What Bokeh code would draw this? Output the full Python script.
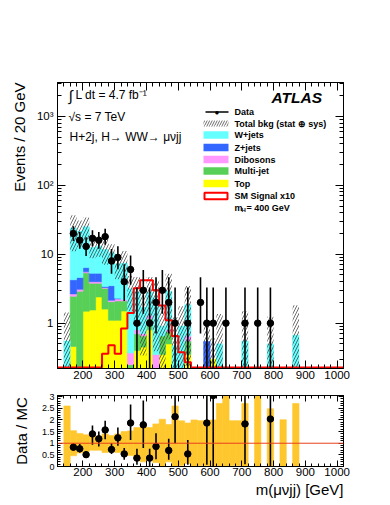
import numpy as np
from bokeh.plotting import figure
from bokeh.layouts import column
from bokeh.models import (Range1d, FixedTicker, LinearAxis, LogAxis, Title,
                          Label, BoxAnnotation, ColumnDataSource, Span, CustomJSTickFormatter)
from bokeh.embed import file_html
from bokeh.resources import INLINE

# ---------------- data ----------------
bin_centers = [150, 170, 190, 210, 230, 250, 270, 290, 310, 330, 350, 370, 390, 410, 430, 450,
               470, 490, 510, 530, 550, 570, 590, 610, 630, 650, 670, 690, 710, 730, 750, 770,
               790, 810, 830, 850, 870]
w_jets = [0.55, 19.7, 17.1, 18.6, 7.2, 7.8, 8.3, 7.0, 4.9, 5.2, 2.8, 2.0, 1.0, 1.5, 1.95, 0.25,
          2.1, 0.25, 0.8, 1.2, 0.1, 0.1, 0, 0, 0.5, 0.05, 0.1, 0.1, 0.55, 0, 0.05, 0,
          0.5, 0, 0.1, 0, 0.67]
z_jets = [0, 1.6, 1.5, 0.85, 1.3, 1.3, 0.1, 1.35, 0.05, 0, 0, 0, 0, 0, 0, 0,
          0, 0, 0, 0, 0, 0, 0.54, 0, 0, 0, 0, 0, 0, 0, 0, 0,
          0, 0, 0, 0, 0]
dibosons = [0, 0.2, 0.2, 0.19, 0.2, 0.2, 0.1, 0.1, 0.15, 0.1, 0.12, 0.1, 0.05, 0.15, 0.35, 0,
            0.05, 0, 0, 0.1, 0, 0, 0, 0, 0, 0, 0, 0, 0, 0, 0, 0,
            0, 0, 0, 0, 0]
multijet = [0, 2.0, 2.9, 3.87, 2.25, 1.4, 1.6, 0.95, 1.0, 0.6, 0.15, 0.3, 0.2, 0.35, 0, 0.3,
            0.25, 0, 0.1, 0.2, 0, 0, 0, 0, 0, 0, 0, 0, 0, 0, 0, 0,
            0, 0, 0, 0, 0]
top = [0, 0.46, 0.0, 1.49, 1.55, 2.4, 1.6, 1.1, 1.1, 1.5, 0.1, 0.4, 0.45, 0.8, 0, 0.35,
       0.5, 0.22, 0, 0.35, 0, 0, 0, 0.3, 0, 0, 0, 0, 0, 0, 0, 0,
       0, 0, 0, 0, 0]
mc_rel_unc = [1.6, 0.54, 0.42, 0.36, 0.30, 0.30, 0.40, 0.33, 0.40, 0.50, 0.53, 0.67, 0.80, 0.67,
              0.83, 1.03, 0.80, 1.60, 0.96, 0.87, 1.00, 0.97, 0.97, 1.00, 1.71, 2.2, 0.97, 0.97,
              1.71, 0, 2.2, 0, 1.48, 0, 1.01, 0, 1.71]

signal_centers = [270, 290, 310, 330, 350, 370, 390, 410, 430, 450, 470, 490, 510, 530]
signal_x10 = [0.36, 0.48, 0.36, 0.84, 1.4, 3.2, 4.2, 4.2, 3.0, 1.8, 1.1, 0.65, 0.38, 0.27]

data_x = [170, 190, 210, 230, 250, 270, 290, 310, 330, 350, 370, 390, 410, 430, 450, 470, 490,
          530, 570, 590, 610, 650, 710, 750, 790]
data_n = [20, 16, 13, 17, 16, 18, 8, 9, 4, 6, 1, 3, 1, 2, 3, 2, 1, 1, 2, 1, 1, 1, 1, 1, 1]
data_err_lo = [4.44, 3.97, 3.57, 4.10, 3.97, 4.22, 2.77, 2.94, 1.91, 2.38, 0.83, 1.63, 0.83, 1.29,
               1.63, 1.29, 0.83, 0.83, 1.29, 0.83, 0.83, 0.83, 0.83, 0.83, 0.83]
data_err_hi = [5.56, 5.10, 4.71, 5.22, 5.10, 5.34, 3.95, 4.11, 3.16, 3.58, 2.30, 2.92, 2.30, 2.64,
               2.92, 2.64, 2.30, 2.30, 2.64, 2.30, 2.30, 2.30, 2.30, 2.30, 2.30]

ratio_x = [170, 190, 210, 230, 250, 270, 290, 310, 330, 350, 370, 390, 410, 430, 470, 490, 530,
           590, 610, 710, 790]
ratio_y = [0.83, 0.76, 0.51, 1.40, 1.19, 1.57, 0.73, 1.23, 0.54, 1.87, 0.36, 1.79, 0.36, 0.86,
           0.69, 2.14, 0.54, 1.87, 3.05, 1.83, 2.04]
ratio_lo = [0.69, 0.60, 0.43, 0.93, 0.86, 1.17, 0.54, 0.89, 0.29, 1.14, 0.07, 0.79, 0.0, 0.31,
            0.29, 1.0, 0.07, 0.07, 0.0, 0.1, 0.0]
ratio_hi = [1.0, 0.97, 0.64, 1.76, 1.5, 1.97, 1.0, 1.67, 0.79, 2.66, 0.76, 2.83, 0.76, 1.43,
            1.19, 3.2, 1.14, 3.2, 3.2, 3.2, 3.2]

x_ticks = [200, 300, 400, 500, 600, 700, 800, 900, 1000]
y_ticks_main = [1, 10, 100, 1000]
y_tick_labels_main = ["1", "10", "10\u00b2", "10\u00b3"]
y_ticks_ratio = [0, 0.5, 1, 1.5, 2, 2.5, 3]

# ---------------- style ----------------
FONT = "Liberation Sans"
YMIN, YMAX = 0.22, 3100
XMIN, XMAX = 120, 1020
HALF = 10
COLORS = {"top": "#FFFF00", "mj": "#58D058", "dib": "#FF99FF", "z": "#3366FF", "w": "#66FFFF"}

FRAME_L, MAIN_FRAME_B, RATIO_FRAME_B = 57, 368, 466
BLANK = CustomJSTickFormatter(code="return '';")


def style_axis(ax, major_in, minor_in, font_size, standoff):
    ax.major_tick_in = major_in
    ax.major_tick_out = 0
    ax.minor_tick_in = minor_in
    ax.minor_tick_out = 0
    ax.axis_line_color = "black"
    ax.major_tick_line_color = "black"
    ax.minor_tick_line_color = "black"
    ax.major_label_text_font = FONT
    ax.major_label_text_font_size = font_size
    ax.major_label_text_color = "black"
    ax.major_label_standoff = standoff


x_minor = [v for v in range(120, 1021, 20) if v % 100 != 0]

# ---------------- main panel ----------------
p = figure(width=390, height=386, x_range=Range1d(XMIN, XMAX), y_range=Range1d(YMIN, YMAX),
           y_axis_type="log", output_backend="svg", toolbar_location=None,
           min_border_left=57, min_border_right=47, min_border_top=82, min_border_bottom=18)
p.grid.visible = False
p.outline_line_color = "black"
p.background_fill_color = "white"
p.border_fill_color = "white"

left = np.array(bin_centers) - HALF
right = np.array(bin_centers) + HALF
cum = np.zeros(len(bin_centers))
for key, vals in [("top", top), ("mj", multijet), ("dib", dibosons), ("z", z_jets), ("w", w_jets)]:
    v = np.array(vals, dtype=float)
    bottom = cum.copy()
    upper = cum + v
    mk = v > 0
    src = ColumnDataSource(dict(left=left[mk], right=right[mk],
                                bottom=np.maximum(bottom[mk], 1e-3), top=upper[mk]))
    p.quad(left="left", right="right", bottom="bottom", top="top", source=src,
           fill_color=COLORS[key], line_color=COLORS[key], line_width=0.6)
    cum = upper
total = cum

unc = np.array(mc_rel_unc)
m = total > 0
p.quad(left=left[m], right=right[m], bottom=np.maximum(total[m] * (1 - unc[m]), 1e-3),
       top=total[m] * (1 + unc[m]), fill_alpha=0, line_color=None,
       hatch_pattern="/", hatch_color="#333333", hatch_alpha=0.8, hatch_scale=6, hatch_weight=0.9)

# signal x10: empty bins drawn along the bottom edge, as in the reference
edges = list(range(XMIN, XMAX + 1, 20))
sig_map = dict(zip(signal_centers, signal_x10))
sig_vals = [sig_map.get(e + HALF, YMIN * 1.03) for e in edges[:-1]]
p.step(x=edges, y=sig_vals + [sig_vals[-1]], mode="after", line_color="#FF0000", line_width=2)

dx = np.array(data_x, dtype=float)
dn = np.array(data_n, dtype=float)
p.segment(x0=dx, y0=np.maximum(dn - np.array(data_err_lo), 1e-3), x1=dx,
          y1=dn + np.array(data_err_hi), line_color="black", line_width=1.6)
p.segment(x0=dx - HALF, y0=dn, x1=dx + HALF, y1=dn, line_color="black", line_width=1.6)
p.scatter(x=dx, y=dn, size=6.5, marker="circle", fill_color="black", line_color="black")

xt = FixedTicker(ticks=x_ticks, minor_ticks=x_minor)
ymin_ticks = [k * 10 ** e for e in range(-1, 4) for k in range(2, 10) if YMIN <= k * 10 ** e <= YMAX]
yt = FixedTicker(ticks=y_ticks_main, minor_ticks=ymin_ticks)
lbl_map = "{" + ",".join(f"'{t}':'{s}'" for t, s in zip(y_ticks_main, y_tick_labels_main)) + "}"
yfmt = CustomJSTickFormatter(code=f"const m = {lbl_map}; const k = String(Math.round(tick)); return (k in m) ? m[k] : '';")

p.xaxis.ticker = xt
p.yaxis.ticker = yt
p.yaxis.formatter = yfmt
style_axis(p.xaxis[0], 8, 4, "11.5px", 2)
style_axis(p.yaxis[0], 8, 4, "11.5px", 4)

ax_top = LinearAxis(ticker=xt, formatter=BLANK)
style_axis(ax_top, 8, 4, "2px", 0)
p.add_layout(ax_top, "above")
ax_right = LogAxis(ticker=yt, formatter=BLANK)
style_axis(ax_right, 8, 4, "2px", 0)
p.add_layout(ax_right, "right")

p.add_layout(Title(text="Events / 20 GeV", align="right", text_font=FONT, text_font_size="15px",
                   text_font_style="normal", text_color="black", standoff=12), "left")


def lab(fig, X, Y, text, size="12px", frame_b=MAIN_FRAME_B, align="left", baseline="middle",
        style="normal", angle=0.0, color="black"):
    fig.add_layout(Label(x=X - FRAME_L, y=frame_b - Y, x_units="screen", y_units="screen",
                         text=text, text_font=FONT, text_font_size=size, text_align=align,
                         text_baseline=baseline, text_font_style=style, angle=angle,
                         text_color=color))


def box(fig, X0, X1, Y0, Y1, **kw):
    fig.add_layout(BoxAnnotation(left=X0 - FRAME_L, right=X1 - FRAME_L,
                                 top=MAIN_FRAME_B - Y0, bottom=MAIN_FRAME_B - Y1,
                                 left_units="screen", right_units="screen",
                                 top_units="screen", bottom_units="screen", **kw))


lab(p, 68, 94.5, "\u222b", size="15px")
lab(p, 75, 94.5, "L dt = 4.7 fb\u207b\u00b9")
lab(p, 68, 116, "\u221as = 7 TeV")
lab(p, 69, 136.5, "H+2j, H\u2192 WW\u2192 \u03bc\u03bdjj")
lab(p, 271, 96.5, "ATLAS", size="15.5px", style="bold italic")

rows = {"data": 111.5, "bkg": 123, "w": 134.5, "z": 147, "dib": 159, "mj": 170.5, "top": 183,
        "sig": 195.5, "mh": 207}
TX = 234
box(p, 205, 228, rows["data"] - 0.8, rows["data"] + 0.8, fill_color="black", fill_alpha=1,
    line_color=None)
lab(p, 216.5, rows["data"] + 0.5, "\u25cf", size="8px", align="center")
lab(p, TX, rows["data"], "Data", size="9px", style="bold")
box(p, 203, 228, rows["bkg"] - 3, rows["bkg"] + 3, fill_alpha=0, line_color=None,
    hatch_pattern="/", hatch_color="#333333", hatch_alpha=0.8, hatch_scale=5, hatch_weight=0.9)
lab(p, TX, rows["bkg"], "Total bkg (stat \u2295 sys)", size="9px", style="bold")
for key, name in [("w", "W+jets"), ("z", "Z+jets"), ("dib", "Dibosons"), ("mj", "Multi-jet"),
                  ("top", "Top")]:
    box(p, 203, 228, rows[key] - 3.8, rows[key] + 3.8, fill_color=COLORS[key], fill_alpha=1,
        line_color=None)
    lab(p, TX, rows[key], name, size="9px", style="bold")
box(p, 204, 227, rows["sig"] - 3.3, rows["sig"] + 3.3, fill_alpha=0, line_color="#FF0000",
    line_width=2, line_alpha=1)
lab(p, TX, rows["sig"], "SM Signal x10", size="9px", style="bold")
lab(p, TX, rows["mh"], "m", size="9px", style="bold")
lab(p, 241, rows["mh"] + 2.5, "H", size="6px", style="bold")
lab(p, 246, rows["mh"], "= 400 GeV", size="9px", style="bold")

# ---------------- ratio panel ----------------
p2 = figure(width=390, height=119, x_range=p.x_range, y_range=Range1d(0, 3.05),
            output_backend="svg", toolbar_location=None,
            min_border_left=57, min_border_right=47, min_border_top=9, min_border_bottom=39)
p2.grid.visible = False
p2.outline_line_color = "black"
p2.border_fill_color = "white"

rb_bot = np.clip(1 - unc, 0, None)
rb_top = 1 + unc
p2.quad(left=left[m], right=right[m], bottom=rb_bot[m], top=rb_top[m], fill_color="#FFC72E",
        line_color="#FFC72E", line_width=0.6)
p2.add_layout(Span(location=1, dimension="width", line_color="#E8401C", line_width=1))

rx = np.array(ratio_x, dtype=float)
ry = np.array(ratio_y, dtype=float)
p2.segment(x0=rx, y0=ratio_lo, x1=rx, y1=ratio_hi, line_color="black", line_width=1.6)
p2.segment(x0=rx - HALF, y0=ry, x1=rx + HALF, y1=ry, line_color="black", line_width=1.6)
p2.scatter(x=rx, y=ry, size=6.5, marker="circle", fill_color="black", line_color="black")

rmin = [round(0.1 * k, 1) for k in range(0, 31) if round(0.1 * k, 1) not in y_ticks_ratio]
ryt = FixedTicker(ticks=y_ticks_ratio, minor_ticks=rmin)
p2.xaxis.ticker = xt
p2.yaxis.ticker = ryt
p2.yaxis.formatter = CustomJSTickFormatter(code="return String(tick);")
style_axis(p2.xaxis[0], 6, 3, "11.5px", 1)
style_axis(p2.yaxis[0], 5, 3, "9px", 3)
ax_top2 = LinearAxis(ticker=xt, formatter=BLANK)
style_axis(ax_top2, 6, 3, "2px", 0)
p2.add_layout(ax_top2, "above")
ax_right2 = LinearAxis(ticker=ryt, formatter=BLANK)
style_axis(ax_right2, 5, 3, "2px", 0)
p2.add_layout(ax_right2, "right")

p2.add_layout(Title(text="Data / MC", align="center", text_font=FONT, text_font_size="15px",
                    text_font_style="normal", text_color="black", standoff=18), "left")
p2.add_layout(Title(text="m(\u03bc\u03bdjj) [GeV]", align="right", text_font=FONT,
                    text_font_size="15px", text_font_style="normal", text_color="black",
                    standoff=0), "below")

layout = column(p, p2, spacing=0)
open("out.html", "w").write(file_html(layout, INLINE))
